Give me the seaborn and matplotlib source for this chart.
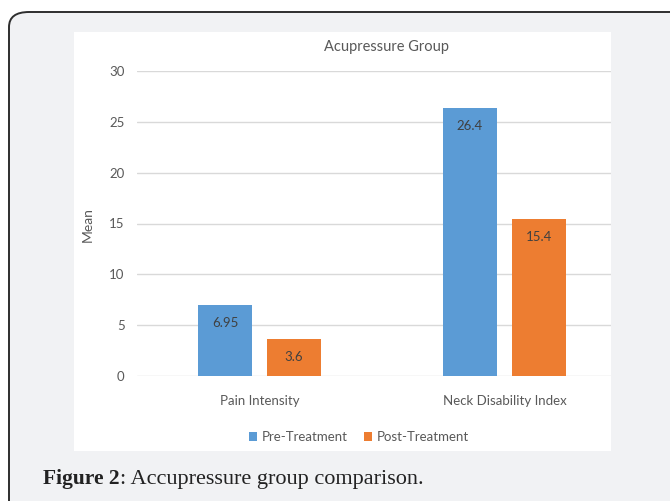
import matplotlib
matplotlib.use("Agg")
import matplotlib.pyplot as plt
from matplotlib.patches import FancyBboxPatch, Rectangle, Patch
import pandas as pd
import seaborn as sns

# Chart data
categories = ["Pain Intensity", "Neck Disability Index"]
groups = ["Pre-Treatment", "Post-Treatment"]
pre_values = [6.95, 26.4]
post_values = [3.6, 15.4]
value_labels_pre = ["6.95", "26.4"]
value_labels_post = ["3.6", "15.4"]
y_ticks = [0, 5, 10, 15, 20, 25, 30]
colors = ["#5B9BD5", "#ED7D31"]

df = pd.DataFrame({
    "category": categories * 2,
    "group": [groups[0]] * 2 + [groups[1]] * 2,
    "value": pre_values + post_values,
})

sns.set_theme(style="white")
plt.rcParams["font.family"] = ["Lato", "DejaVu Sans"]

W, H = 670, 501
fig = plt.figure(figsize=(W / 100, H / 100), dpi=100)
fig.patch.set_facecolor("white")


def fx(px):
    return px / W


def fy(py):
    return 1 - py / H


# Outer rounded frame
frame = FancyBboxPatch((fx(9), fy(540)), fx(700), fy(12) - fy(540),
                       boxstyle="round,pad=0,rounding_size=0.03",
                       transform=fig.transFigure, facecolor="#F1F2F4",
                       edgecolor="#2E2E2E", linewidth=1.4, zorder=0)
fig.patches.append(frame)

# White chart panel
panel = Rectangle((fx(74), fy(451)), fx(611) - fx(74), fy(32) - fy(451),
                  transform=fig.transFigure, facecolor="white",
                  edgecolor="none", zorder=1)
fig.patches.append(panel)

ax = fig.add_axes([fx(137), fy(376), fx(611) - fx(137), fy(71) - fy(376)])
ax.set_facecolor("none")
ax.set_zorder(2)

sns.barplot(data=df, x="category", y="value", hue="group", hue_order=groups,
            order=categories, palette=colors, width=0.563, gap=0.203,
            linewidth=0, saturation=1, ax=ax, legend=False, zorder=3)

ax.set_xlim(-0.5, -0.5 + 474 / 245)
ax.set_ylim(0, 30)
ax.set_yticks(y_ticks)
ax.set_yticklabels([str(t) for t in y_ticks])
for t in y_ticks:
    ax.axhline(t, color="#D9D9D9", linewidth=1.0, zorder=1)
for s in ax.spines.values():
    s.set_visible(False)
ax.tick_params(axis="y", length=0, pad=9, labelsize=9.5, labelcolor="#595959")
ax.tick_params(axis="x", length=0, pad=14, labelsize=9.5, labelcolor="#595959")
ax.set_xlabel("")
ax.set_ylabel("")

# Value labels inside bar tops
label_sets = [value_labels_pre, value_labels_post]
for container, labels in zip(ax.containers, label_sets):
    for bar, lab in zip(container, labels):
        ax.annotate(lab, xy=(bar.get_x() + bar.get_width() / 2, bar.get_height()),
                    xytext=(0, -18), textcoords="offset pixels",
                    ha="center", va="center", fontsize=9.5, color="#404040",
                    zorder=4)

fig.text(fx(88), fy(225), "Mean", rotation=90, ha="center", va="center",
         fontsize=10, color="#595959", zorder=5)
fig.text(fx(387), fy(47), "Acupressure Group", ha="center", va="center",
         fontsize=10.5, color="#595959", zorder=5)

handles = [Patch(facecolor=c, edgecolor="none") for c in colors]
fig.legend(handles, groups, loc="center", bbox_to_anchor=(fx(359), fy(437)),
           ncol=2, frameon=False, fontsize=9.5, handlelength=0.6,
           handleheight=0.6, handletextpad=0.4, columnspacing=1.2,
           labelcolor="#595959")

# Caption: bold figure number followed by regular text
serif = ["Liberation Serif", "DejaVu Serif"]
t1 = fig.text(fx(43), fy(484), "Figure 2", ha="left", va="baseline",
              fontsize=15.5, fontweight="bold", color="#222222",
              family=serif, zorder=5)
ax.annotate(": Accupressure group comparison.", xy=(1, 0), xycoords=t1,
            ha="left", va="bottom", fontsize=16, color="#222222",
            family=serif, annotation_clip=False)

fig.savefig("out.png", dpi=100)
